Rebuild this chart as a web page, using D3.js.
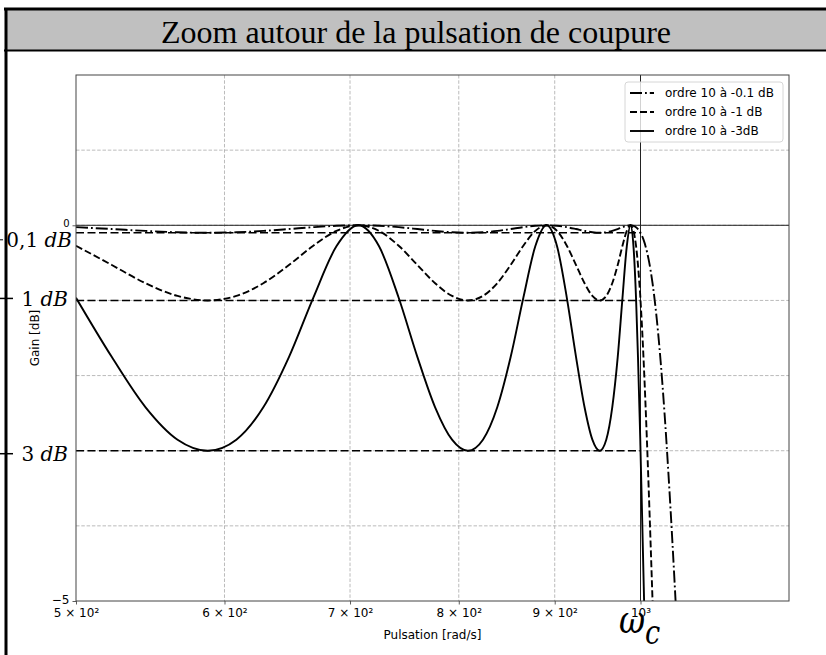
<!DOCTYPE html>
<html>
<head>
<meta charset="utf-8">
<script src="https://cdn.jsdelivr.net/npm/d3@7"></script>
<style>
  body { margin: 0; background: #fff; }
  svg { display: block; }
</style>
</head>
<body>
<svg id="chart"></svg>
<script>
// pulsation (rad/s)
const omega = [500, 522.5, 544.6, 566.4, 587.8, 608.8, 629.3, 649.4, 669.1, 688.4,
    707.1, 725.4, 743.1, 760.4, 777.1, 793.4, 809.0, 824.1, 838.7, 852.6,
    866.0, 878.8, 891.0, 902.6, 913.5, 923.9, 933.6, 942.6, 951.1, 958.8,
    965.9, 972.4, 978.1, 983.3, 987.7, 991.4, 994.5, 996.9, 998.6, 999.7,
    1000, 1001, 1002, 1003, 1004, 1005, 1006, 1008, 1010, 1012.5,
    1015, 1020, 1025, 1030, 1035, 1040, 1045, 1050];

// gains (dB)
const gain01 = [-0.025, -0.050, -0.075, -0.093, -0.1, -0.093, -0.075, -0.050, -0.025, -0.007,
    0, -0.007, -0.025, -0.050, -0.075, -0.093, -0.1, -0.093, -0.075, -0.050,
    -0.025, -0.007, 0, -0.007, -0.025, -0.050, -0.075, -0.093, -0.1, -0.093,
    -0.075, -0.050, -0.025, -0.007, 0, -0.007, -0.025, -0.050, -0.075, -0.093,
    -0.1, -0.121, -0.145, -0.172, -0.201, -0.234, -0.271, -0.355, -0.454, -0.603,
    -0.781, -1.231, -1.810, -2.511, -3.325, -4.227, -5.199, -6.209];

const gain1 = [-0.272, -0.529, -0.771, -0.940, -1.0, -0.940, -0.771, -0.529, -0.272, -0.075,
    0, -0.075, -0.272, -0.529, -0.771, -0.940, -1.0, -0.940, -0.771, -0.529,
    -0.272, -0.075, 0, -0.075, -0.272, -0.529, -0.771, -0.940, -1.0, -0.940,
    -0.771, -0.529, -0.272, -0.075, 0, -0.075, -0.272, -0.529, -0.771, -0.940,
    -1.0, -1.187, -1.389, -1.607, -1.839, -2.084, -2.343, -2.890, -3.475, -4.244,
    -5.039, -6.668, -8.29, -9.87, -11.40, -12.86, -14.26, -15.60];

const gain3 = [-0.965, -1.754, -2.422, -2.853, -3.0, -2.853, -2.422, -1.754, -0.965, -0.280,
    0, -0.280, -0.965, -1.754, -2.422, -2.853, -3.0, -2.853, -2.422, -1.754,
    -0.965, -0.280, 0, -0.280, -0.965, -1.754, -2.422, -2.853, -3.0, -2.853,
    -2.422, -1.754, -0.965, -0.280, 0, -0.280, -0.965, -1.754, -2.422, -2.853,
    -3.0, -3.44, -3.89, -4.35, -4.81, -5.27, -5.74, -6.66, -7.57, -8.67,
    -9.74, -11.76, -13.63, -15.37, -17.00, -18.54, -19.99, -21.36];

const seriesNames = ["ordre 10 à -0.1 dB", "ordre 10 à -1 dB", "ordre 10 à -3dB"];

// niveaux d'ondulation + annotations
const rippleLevels = [-0.1, -1, -3];
const rippleLabels = ["0,1", "1", "3"];
const omegaC = 1000;

const xTicks = [500, 600, 700, 800, 900, 1000];
const xTickLabels = ["5 × 10²", "6 × 10²", "7 × 10²", "8 × 10²", "9 × 10²", "10³"];
const yGrid = [1, 0, -1, -2, -3, -4];
const yTicks = [0, -5];
const yTickLabels = ["0", "−5"];

const W = 826, H = 655;
const margin = { top: 75, right: 37, bottom: 54, left: 76 },
    width = W - margin.left - margin.right,
    height = H - margin.top - margin.bottom;

const svg = d3.select("#chart").attr("width", W).attr("height", H);

//Cadre + bandeau titre
svg.append("rect").attr("x", 7).attr("y", 10).attr("width", W - 7).attr("height", 40)
    .attr("fill", "#c0c0c0");
svg.append("line").attr("x1", 4).attr("x2", W).attr("y1", 9).attr("y2", 9)
    .attr("stroke", "#000").attr("stroke-width", 3);
svg.append("line").attr("x1", 4).attr("x2", W).attr("y1", 50.5).attr("y2", 50.5)
    .attr("stroke", "#000").attr("stroke-width", 2);
svg.append("line").attr("x1", 6).attr("x2", 6).attr("y1", 8).attr("y2", H)
    .attr("stroke", "#000").attr("stroke-width", 3);
svg.append("text").attr("x", 416).attr("y", 43).attr("text-anchor", "middle")
    .style("font-family", "'Liberation Serif', 'Times New Roman', serif")
    .style("font-size", "32px")
    .text("Zoom autour de la pulsation de coupure");

//Échelles
const x = d3.scaleLog().domain([500, 1200]).range([0, width]);
const y = d3.scaleLinear().domain([-5, 2]).range([height, 0]);

const g = svg.append("g").attr("transform", "translate(" + margin.left + "," + margin.top + ")");

g.append("clipPath").attr("id", "clip")
    .append("rect").attr("width", width).attr("height", height);

//Grille
g.selectAll(".vgrid").data(xTicks.slice(1)).enter().append("line")
    .attr("x1", d => x(d)).attr("x2", d => x(d)).attr("y1", 0).attr("y2", height)
    .attr("stroke", "#aaa").attr("stroke-width", 0.8).attr("stroke-dasharray", "3.5,1.8");
g.selectAll(".hgrid").data(yGrid).enter().append("line")
    .attr("x1", 0).attr("x2", width).attr("y1", d => y(d)).attr("y2", d => y(d))
    .attr("stroke", "#aaa").attr("stroke-width", 0.8).attr("stroke-dasharray", "3.5,1.8");

//Axes
const xAxis = g.append("g").attr("transform", "translate(0," + height + ")")
    .call(d3.axisBottom(x).tickValues(xTicks).tickFormat((d, i) => xTickLabels[i]).tickSize(3.5).tickPadding(4));
const yAxis = g.append("g")
    .call(d3.axisLeft(y).tickValues(yTicks).tickFormat((d, i) => yTickLabels[i]).tickSize(3.5).tickPadding(3));
[xAxis, yAxis].forEach(a => {
    a.select(".domain").remove();
    a.selectAll("text").style("font-family", "'DejaVu Sans', sans-serif").style("font-size", "12px").attr("fill", "#000");
    a.selectAll("line").attr("stroke", "#333").attr("stroke-width", 0.8);
});
yAxis.selectAll("text").filter(d => d === 0).style("font-size", "10px").attr("dy", "0.1em");
yAxis.selectAll("text").filter(d => d === -5).attr("dy", "0.2em");

// repère 0 dB et pulsation de coupure
g.append("line").attr("x1", 0).attr("x2", width).attr("y1", y(0)).attr("y2", y(0))
    .attr("stroke", "#222").attr("stroke-width", 1);
g.append("line").attr("x1", x(omegaC)).attr("x2", x(omegaC)).attr("y1", 0).attr("y2", height)
    .attr("stroke", "#222").attr("stroke-width", 1);

// lignes d'ondulation
g.selectAll(".ripple").data(rippleLevels).enter().append("line")
    .attr("x1", x(500)).attr("x2", x(omegaC)).attr("y1", d => y(d)).attr("y2", d => y(d))
    .attr("stroke", "#000").attr("stroke-width", 1.5).attr("stroke-dasharray", "8,3.5");

//Courbes
const styles = ["12,3,1.8,3", "7,3", null];
const gains = [gain01, gain1, gain3];
const line = d3.line().x(d => x(d[0])).y(d => y(d[1])).curve(d3.curveMonotoneX);

gains.forEach((gs, k) => {
    g.append("path")
        .datum(omega.map((w, i) => [w, gs[i]]))
        .attr("clip-path", "url(#clip)")
        .attr("d", line)
        .attr("fill", "none").attr("stroke", "#000").attr("stroke-width", 1.9)
        .attr("stroke-dasharray", styles[k]);
});

// cadre du graphe
g.append("rect").attr("width", width).attr("height", height)
    .attr("fill", "none").attr("stroke", "#444").attr("stroke-width", 1);

//Légende
const leg = g.append("g").attr("transform", "translate(" + (width - 164) + ",7)");
leg.append("rect").attr("width", 158).attr("height", 60).attr("rx", 3)
    .attr("fill", "#fff").attr("fill-opacity", 0.8).attr("stroke", "#d6d6d6");
seriesNames.forEach((s, i) => {
    const yy = 11 + i * 19;
    leg.append("line").attr("x1", 5).attr("x2", 29).attr("y1", yy).attr("y2", yy)
        .attr("stroke", "#000").attr("stroke-width", 1.9).attr("stroke-dasharray", styles[i]);
    leg.append("text").attr("x", 40).attr("y", yy).attr("dy", "0.35em")
        .style("font-family", "'DejaVu Sans', sans-serif").style("font-size", "12px")
        .text(s);
});

// libellés d'axes
g.append("text").attr("x", width / 2).attr("y", height + 38).attr("text-anchor", "middle")
    .style("font-family", "'DejaVu Sans', sans-serif").style("font-size", "12px").text("Pulsation [rad/s]");
g.append("text").attr("transform", "translate(-37," + (height / 2) + ") rotate(-90)")
    .attr("text-anchor", "middle")
    .style("font-family", "'DejaVu Sans', sans-serif").style("font-size", "12px").text("Gain [dB]");

// annotations à gauche (légèrement décalées comme sur l'original)
const annShift = [7, -2, 3];
const annRight = [72, 68, 68];
const ann = svg.append("g");
rippleLevels.forEach((lv, i) => {
    const yy = margin.top + y(lv) + annShift[i];
    const t = ann.append("text").attr("x", annRight[i]).attr("y", yy).attr("dy", "0.36em")
        .attr("text-anchor", "end")
        .style("font-family", "'DejaVu Serif', 'Liberation Serif', serif").style("font-size", "20px");
    t.append("tspan").text(rippleLabels[i] + " ");
    t.append("tspan").style("font-style", "italic").text("dB");
    ann.append("line").attr("x1", 0).attr("x2", i > 0 ? 13 : 3).attr("y1", yy).attr("y2", yy)
        .attr("stroke", "#000").attr("stroke-width", i > 0 ? 1.5 : 1);
});

// ω_c
const wc = svg.append("text").attr("transform", "translate(619,633) scale(0.8,1)")
    .style("font-family", "'DejaVu Serif', 'Liberation Serif', serif").style("font-style", "italic");
wc.append("tspan").style("font-size", "40px").text("ω");
wc.append("tspan").style("font-size", "34px").attr("dy", 11).text("c");
</script>
</body>
</html>
